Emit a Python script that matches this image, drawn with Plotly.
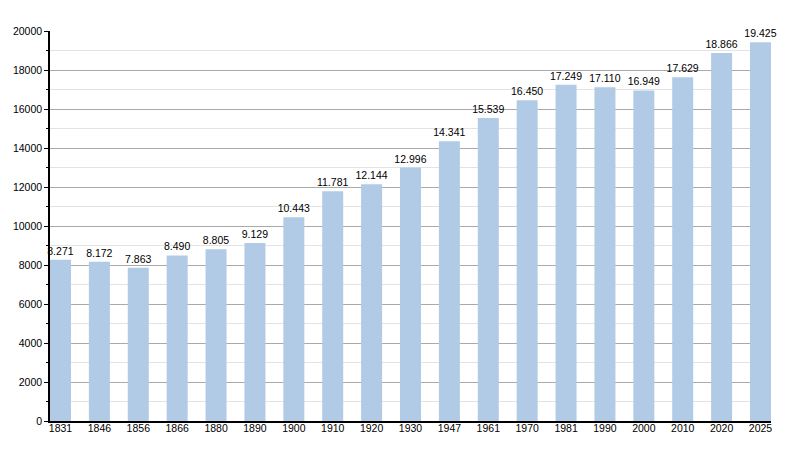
import plotly.graph_objects as go

years = ["1831", "1846", "1856", "1866", "1880", "1890", "1900", "1910", "1920", "1930",
         "1947", "1961", "1970", "1981", "1990", "2000", "2010", "2020", "2025"]
population = [8271, 8172, 7863, 8490, 8805, 9129, 10443, 11781, 12144, 12996,
              14341, 15539, 16450, 17249, 17110, 16949, 17629, 18866, 19425]
labels = [f"{v:,}".replace(",", ".") for v in population]

fig = go.Figure(go.Bar(
    x=list(range(len(years))), y=population,
    text=labels, textposition="outside", cliponaxis=False, constraintext="none",
    textfont=dict(color="#000000", size=10.5, family="Liberation Sans"),
    marker=dict(color="#b1cbe6", line=dict(width=0)),
    width=0.54, hoverinfo="skip",
))

# page body has an 8px default margin, so margins are offset accordingly
fig.update_layout(
    width=800, height=450,
    margin=dict(l=42, r=37, t=23, b=37, autoexpand=False),
    paper_bgcolor="white", plot_bgcolor="white",
    font=dict(family="Liberation Sans", size=10.5, color="#000000"),
    showlegend=False,
)
fig.update_xaxes(
    range=[-0.27, 18.27], automargin=False,
    tickmode="array", tickvals=list(range(len(years))), ticktext=years,
    showgrid=False, showline=True, linecolor="#000000", linewidth=1.5,
    ticks="", zeroline=False, ticklabelstandoff=-3,
)
fig.update_yaxes(
    range=[0, 20000], tickmode="linear", tick0=0, dtick=2000, tickformat="d",
    automargin=False,
    showgrid=True, gridcolor="#aaaaaa", gridwidth=1,
    showline=True, linecolor="#000000", linewidth=1.5,
    ticks="outside", ticklen=4, tickcolor="#000000",
    zeroline=False,
    minor=dict(dtick=1000, tick0=0, ticks="outside", ticklen=2, tickcolor="#000000",
               showgrid=True, gridcolor="#e3e3e3", gridwidth=1),
)

fig.write_html("out.html")
